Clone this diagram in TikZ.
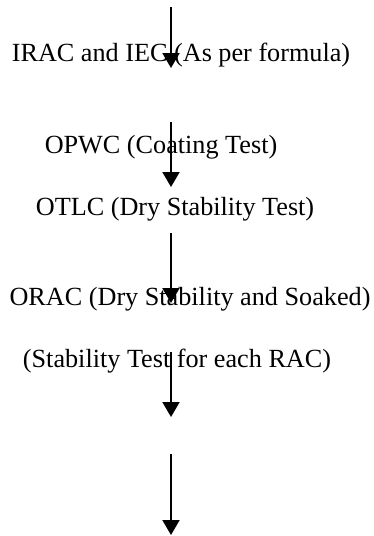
\documentclass[tikz,border=0pt]{standalone}
\usepackage{fontspec}
\setmainfont{Liberation Serif}
\usetikzlibrary{arrows.meta}
\begin{document}
\begin{tikzpicture}[x=1pt,y=-1pt,
  lbl/.style={inner sep=0pt,anchor=base,font=\fontsize{26.2}{30}\selectfont},
  flow/.style={line width=2pt,-{Triangle[width=17pt,length=15pt]}}]
\useasboundingbox (0,0) rectangle (373,536);
  \node (irac) at (181,61) [lbl] {IRAC and IEC (As per formula)};
  \node (opwc) at (161,153) [lbl] {OPWC (Coating Test)};
  \node (otlc) at (175,215) [lbl] {OTLC (Dry Stability Test)};
  \node (orac) at (190,305) [lbl] {ORAC (Dry Stability and Soaked)};
  \node (stab) at (177,367) [lbl] {(Stability Test for each RAC)};

  \coordinate (s1) at (171,7);   \coordinate (e1) at (171,68);
  \coordinate (s2) at (171,122); \coordinate (e2) at (171,187);
  \coordinate (s3) at (171,233); \coordinate (e3) at (171,303);
  \coordinate (s4) at (171,352); \coordinate (e4) at (171,417);
  \coordinate (s5) at (171,454); \coordinate (e5) at (171,535);

  \draw [flow] (s1) to (e1);
  \draw [flow] (s2) to (e2);
  \draw [flow] (s3) to (e3);
  \draw [flow] (s4) to (e4);
  \draw [flow] (s5) to (e5);

\end{tikzpicture}
\end{document}
